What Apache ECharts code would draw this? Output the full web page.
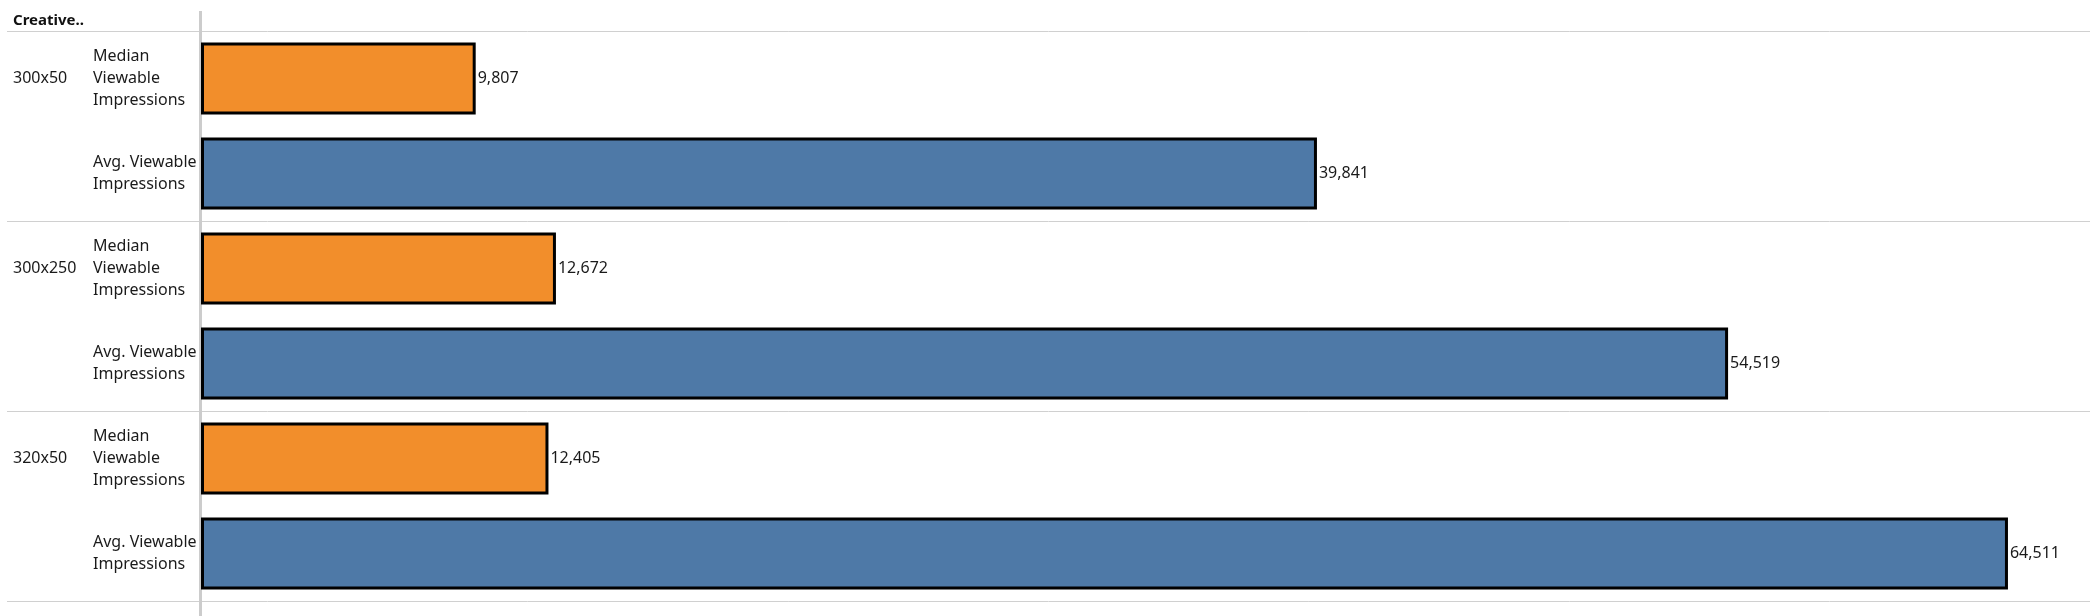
<!DOCTYPE html>
<html><head><meta charset="utf-8">
<script src="https://cdn.jsdelivr.net/npm/echarts@6/dist/echarts.min.js"></script>
<style>html,body{margin:0;padding:0;background:#fff}#c{width:2090px;height:616px}</style>
</head><body><div id="c"></div>
<script>
const creatives = ['300x50', '300x250', '320x50'];
const measures = ['Median\nViewable\nImpressions', 'Avg. Viewable\nImpressions'];
const medianViewable = [9807, 12672, 12405];
const avgViewable = [39841, 54519, 64511];
const measureColors = ['#F28E2B', '#4E79A7'];
const header = 'Creative..';

const FONT = '"Noto Sans", sans-serif';
const TOP = 31, ROW = 190, LEFT = 201, XMAX = 67440;
const chart = echarts.init(document.getElementById('c'));
const grids = [], xAxes = [], yAxes = [], series = [], graphics = [];
creatives.forEach((cr, i) => {
  grids.push({left: LEFT, right: 0, top: TOP + ROW * i, height: ROW, containLabel: false, outerBoundsMode: 'none'});
  xAxes.push({type: 'value', gridIndex: i, min: 0, max: XMAX, show: false});
  yAxes.push({type: 'category', gridIndex: i, data: measures, inverse: true, position: 'left',
    axisLine: {show: false}, axisTick: {show: false}, splitLine: {show: false},
    axisLabel: {align: 'left', margin: LEFT - 93, fontFamily: FONT, fontSize: 16, lineHeight: 22, color: '#1a1a1a'}});
  yAxes.push({type: 'category', gridIndex: i, data: [cr, ''], inverse: true, position: 'left',
    axisLine: {show: false}, axisTick: {show: false}, splitLine: {show: false},
    axisLabel: {align: 'left', margin: LEFT - 13, fontFamily: FONT, fontSize: 16, color: '#1a1a1a'}});
  series.push({type: 'bar', xAxisIndex: i, yAxisIndex: 2 * i, barWidth: 72,
    data: [medianViewable[i], avgViewable[i]].map((v, k) => ({value: v,
      itemStyle: {color: measureColors[k], borderColor: '#000', borderWidth: 3}})),
    label: {show: true, position: 'right', distance: 2, fontFamily: FONT, fontSize: 16, color: '#1a1a1a',
      formatter: p => p.value.toLocaleString('en-US')},
    animation: false});
});
for (let i = 0; i <= creatives.length; i++) {
  graphics.push({type: 'line', shape: {x1: 7, y1: TOP + ROW * i + 0.5, x2: 2090, y2: TOP + ROW * i + 0.5},
    style: {stroke: '#d0d0d0', lineWidth: 1}, z: 0});
}
graphics.push({type: 'line', shape: {x1: 200.5, y1: 11, x2: 200.5, y2: 616},
  style: {stroke: '#cccccc', lineWidth: 3}, z: 0});
chart.setOption({
  animation: false,
  title: {text: header, left: 13, top: 13, padding: 0, textStyle: {fontFamily: FONT, fontSize: 15, fontWeight: 'bold', color: '#111'}},
  grid: grids, xAxis: xAxes, yAxis: yAxes, series: series, graphic: graphics
});
</script></body></html>
